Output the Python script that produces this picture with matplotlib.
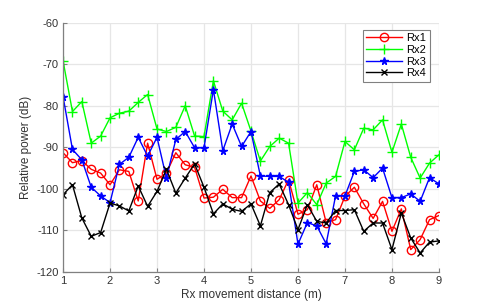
import matplotlib
matplotlib.use("Agg")
import matplotlib.pyplot as plt
import numpy as np

plt.rcParams['font.family'] = ['Liberation Sans', 'DejaVu Sans']
plt.rcParams['axes.unicode_minus'] = False

distance = [round(1 + 0.2 * i, 1) for i in range(41)]

rx1 = [-91.3, -93.7, -93.2, -95.3, -96.2, -99.0, -95.4, -95.8, -102.9, -89.0,
       -97.7, -96.2, -91.3, -94.2, -94.8, -102.2, -102.0, -100.1, -102.1, -102.1,
       -96.9, -102.9, -104.7, -102.6, -97.8, -106.1, -105.0, -99.0, -108.1, -107.4,
       -101.8, -99.6, -103.6, -107.1, -103.0, -110.2, -104.8, -114.6, -112.2, -107.4,
       -106.4]
rx2 = [-69.2, -81.4, -79.0, -89.0, -87.3, -82.9, -81.8, -81.3, -79.2, -77.3,
       -85.6, -86.2, -85.2, -80.0, -87.3, -87.4, -74.0, -81.3, -83.4, -79.4,
       -86.1, -93.3, -89.8, -87.8, -89.0, -103.4, -100.9, -103.8, -98.6, -97.0,
       -88.6, -90.6, -85.4, -85.8, -83.4, -91.2, -84.4, -92.4, -97.4, -93.8,
       -91.8]
rx3 = [-77.8, -90.5, -93.0, -99.6, -101.7, -103.3, -94.1, -92.4, -87.6, -92.1,
       -87.6, -97.4, -88.1, -86.2, -90.1, -90.1, -76.1, -90.8, -84.4, -89.8,
       -86.2, -96.9, -97.0, -97.0, -98.4, -113.3, -108.1, -108.9, -113.2, -101.7,
       -101.7, -95.8, -95.4, -97.3, -95.0, -102.1, -102.1, -101.2, -103.0, -97.3,
       -98.8]
rx4 = [-101.4, -99.0, -107.0, -111.4, -110.5, -103.4, -104.1, -105.3, -99.3, -104.2,
       -100.6, -95.3, -101.0, -97.4, -94.0, -99.6, -106.0, -103.6, -104.9, -105.4,
       -103.6, -108.9, -100.9, -98.8, -103.8, -109.8, -103.8, -107.8, -108.2, -105.2,
       -105.2, -105.0, -110.2, -108.2, -108.2, -114.6, -105.8, -111.8, -115.4, -112.8,
       -112.5]

labels = ['Rx1', 'Rx2', 'Rx3', 'Rx4']
xticks = [1, 2, 3, 4, 5, 6, 7, 8, 9]
yticks = [-120, -110, -100, -90, -80, -70, -60]

fig = plt.figure(figsize=(4.85, 3.05), dpi=100)
ax = fig.add_axes([0.13, 0.108, 0.775, 0.818])

ax.plot(distance, rx1, color='#FF0000', marker='o', markersize=6, mfc='none',
        mew=1.0, lw=1.0, label=labels[0])
ax.plot(distance, rx2, color='#00FF00', marker='+', markersize=7,
        mew=1.0, lw=1.0, label=labels[1])
ax.plot(distance, rx3, color='#0000FF', marker='*', markersize=5.5,
        mew=1.0, lw=1.0, label=labels[2])
ax.plot(distance, rx4, color='#000000', marker='x', markersize=4,
        mew=1.0, lw=1.0, label=labels[3])

ax.set_xlim(1, 9)
ax.set_ylim(-120, -60)
ax.set_xticks(xticks)
ax.set_yticks(yticks)
ax.grid(True, color='#e6e6e6', linewidth=0.9)
ax.set_axisbelow(True)
for s in ['top', 'right']:
    ax.spines[s].set_visible(False)
for s in ['left', 'bottom']:
    ax.spines[s].set_color('#808080')
    ax.spines[s].set_linewidth(0.9)
ax.tick_params(direction='in', length=3, color='#808080', labelsize=8,
               labelcolor='#333333', pad=3)
ax.set_xlabel('Rx movement distance (m)', fontsize=8.5, color='#333333', labelpad=2)
ax.set_ylabel('Relative power (dB)', fontsize=8.5, color='#333333', labelpad=3)

leg = ax.legend(loc='upper right', bbox_to_anchor=(0.975, 0.97), fontsize=8,
                fancybox=False, framealpha=1, edgecolor='#808080',
                handlelength=3.2, handletextpad=0.4, borderpad=0.3,
                labelspacing=0.15, borderaxespad=0)
leg.get_frame().set_linewidth(0.8)

fig.savefig('out.png', dpi=100)
